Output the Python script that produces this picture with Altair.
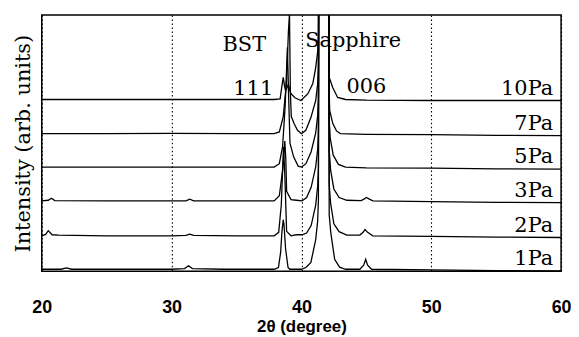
import altair as alt
import pandas as pd

# ---- data (2theta in degrees, intensity in arb. units above each trace's baseline) ----
traces = ["1Pa", "2Pa", "3Pa", "5Pa", "7Pa", "10Pa"]
offsets = [0.0, 0.98, 2.0, 2.99, 3.97, 4.97]

tt_1pa = [20.0, 21.5, 21.9, 22.3, 25.0, 30.0, 31.0, 31.3, 31.6, 34.0, 37.9, 38.23, 38.4, 38.5, 38.6,
          38.66, 38.78, 38.97, 39.1, 39.6, 40.0, 40.35, 40.73, 41.1, 41.25, 41.31, 41.34, 42.1, 42.14,
          42.26, 42.56, 42.94, 43.4, 44.5, 44.8, 44.95, 45.1, 45.4, 50.0, 55.0, 60.0]
int_1pa = [0.0, 0.0, 0.04, 0.0, 0.0, 0.0, 0.02, 0.1, 0.02, 0.0, 0.0, 0.05, 0.5, 1.1, 1.45,
           1.3, 0.6, 0.05, 0.0, 0.0, 0.0, 0.05, 0.2, 0.87, 1.4, 2.03, 9.0, 9.0, 1.6,
           1.08, 0.29, 0.06, 0.0, 0.0, 0.12, 0.29, 0.12, 0.0, -0.02, -0.04, -0.05]

tt_2pa = [20.0, 20.3, 20.5, 20.8, 21.3, 25.0, 30.0, 31.1, 31.4, 31.7, 35.0, 37.9, 38.25, 38.45, 38.62,
          38.72, 38.86, 39.2, 39.6, 40.05, 40.4, 40.75, 41.1, 41.25, 41.31, 41.34, 42.1, 42.14,
          42.25, 42.5, 42.9, 43.5, 44.5, 44.75, 44.9, 45.1, 45.5, 50.0, 55.0, 60.0]
int_2pa = [0.0, 0.04, 0.15, 0.03, 0.02, 0.0, 0.0, 0.01, 0.05, 0.01, 0.0, 0.0, 0.1, 0.9, 2.6,
           1.8, 0.13, 0.0, 0.03, 0.03, 0.08, 0.3, 0.9, 1.45, 2.0, 9.0, 9.0, 1.5,
           0.95, 0.35, 0.12, 0.02, 0.02, 0.1, 0.18, 0.1, 0.0, -0.02, -0.04, -0.05]

tt_3pa = [20.0, 20.5, 20.75, 21.0, 25.0, 30.0, 31.1, 31.4, 31.7, 35.0, 37.9, 38.3, 38.55, 38.72,
          38.8, 38.86, 39.2, 39.6, 40.05, 40.4, 40.75, 41.1, 41.25, 41.31, 41.34, 42.1, 42.14,
          42.25, 42.5, 42.9, 43.5, 44.6, 44.85, 45.0, 45.2, 45.5, 50.0, 55.0, 60.0]
int_3pa = [0.0, 0.02, 0.08, 0.01, 0.0, 0.0, 0.0, 0.05, 0.0, 0.0, 0.0, 0.15, 0.9, 1.75,
           1.2, 0.28, 0.04, 0.02, 0.0, 0.1, 0.4, 1.0, 1.5, 2.0, 9.0, 9.0, 1.5,
           0.9, 0.35, 0.1, 0.02, 0.01, 0.06, 0.1, 0.06, 0.0, -0.02, -0.04, -0.05]

tt_5pa = [20.0, 25.0, 30.0, 35.0, 37.9, 38.3, 38.55, 38.75, 38.92, 39.02, 39.12, 39.4, 39.75,
          40.0, 40.35, 40.75, 41.1, 41.25, 41.31, 41.34, 42.1, 42.14, 42.22, 42.45, 42.85, 43.4,
          45.0, 50.0, 55.0, 60.0]
int_5pa = [0.0, 0.0, 0.0, 0.0, 0.0, 0.1, 0.6, 1.8, 3.5, 2.0, 0.7, 0.3, 0.03,
           0.0, 0.1, 0.45, 1.0, 1.5, 2.0, 9.0, 9.0, 1.4, 0.85, 0.35, 0.08, 0.0,
           -0.02, -0.03, -0.05, -0.06]

tt_7pa = [20.0, 25.0, 30.0, 35.0, 37.9, 38.3, 38.6, 38.85, 39.0, 39.08, 39.15, 39.22, 39.45,
          39.7, 40.0, 40.34, 40.73, 41.1, 41.25, 41.31, 41.34, 42.1, 42.14, 42.18, 42.41, 42.7,
          43.0, 45.0, 50.0, 55.0, 60.0]
int_7pa = [0.0, 0.0, 0.01, 0.0, 0.0, 0.05, 0.5, 1.5, 3.0, 3.5, 1.2, 0.5, 0.28,
           0.1, 0.0, 0.1, 0.47, 0.97, 1.45, 1.93, 9.0, 9.0, 1.2, 0.68, 0.3, 0.08,
           0.0, -0.02, -0.03, -0.05, -0.06]

tt_10pa = [20.0, 25.0, 30.0, 35.0, 37.9, 38.36, 38.5, 38.6, 38.7, 38.78, 38.9, 39.0, 39.08,
           39.2, 39.5, 39.96, 40.5, 40.88, 41.1, 41.25, 41.31, 41.34, 42.1, 42.15, 42.41, 42.79,
           43.4, 45.0, 50.0, 55.0, 60.0]
int_10pa = [0.0, 0.0, 0.0, 0.0, 0.0, 0.02, 0.4, 0.65, 0.4, 0.26, 0.35, 0.45, 0.3,
            0.17, 0.05, -0.03, 0.17, 0.47, 0.93, 1.4, 1.92, 9.0, 9.0, 0.64, 0.35, 0.06,
            0.0, -0.02, -0.03, -0.03, -0.03]

tt_all = [tt_1pa, tt_2pa, tt_3pa, tt_5pa, tt_7pa, tt_10pa]
int_all = [int_1pa, int_2pa, int_3pa, int_5pa, int_7pa, int_10pa]

# annotation texts
peak_labels = ["BST", "Sapphire", "111", "006"]
peak_label_x = [35.6, 43.98, 36.29, 45.01]
peak_label_y = [6.395, 6.52, 5.09, 5.15]
pa_label_x = 59.39
pa_label_rise = 0.12

rows = []
for name, off, xs, ys in zip(traces, offsets, tt_all, int_all):
    for i, (a, b) in enumerate(zip(xs, ys)):
        rows.append({"trace": name, "tt": a, "val": b + off, "i": i})
df = pd.DataFrame(rows)

df_peak = pd.DataFrame({"label": peak_labels, "tt": peak_label_x, "val": peak_label_y})
df_pa = pd.DataFrame({"label": traces, "tt": [pa_label_x] * len(traces),
                      "val": [o + pa_label_rise for o in offsets]})

xscale = alt.Scale(domain=[20, 60], nice=False)
yscale = alt.Scale(domain=[-0.06, 7.44], nice=False, zero=False)

lines = alt.Chart(df).mark_line(clip=True, color="black", strokeWidth=1.3).encode(
    x=alt.X("tt:Q", scale=xscale,
            axis=alt.Axis(values=[20, 30, 40, 50, 60], grid=True, gridDash=[1.5, 2.5],
                          gridColor="black", gridWidth=1.1, gridOpacity=1,
                          ticks=False, tickSize=0, domain=False, labelFlush=False,
                          labelFont="Liberation Sans", labelFontWeight="bold",
                          labelFontSize=18, labelColor="black", labelPadding=27,
                          title="2θ (degree)", titleFont="Liberation Sans",
                          titleFontWeight="bold", titleFontSize=17, titleColor="black",
                          titlePadding=3)),
    y=alt.Y("val:Q", scale=yscale,
            axis=alt.Axis(labels=False, ticks=False, domain=False, grid=False,
                          title="Intensity (arb. units)", titleFont="DejaVu Serif",
                          titleFontWeight="normal", titleFontSize=21, titleColor="black",
                          titlePadding=8)),
    detail="trace:N",
    order="i:Q",
)

peak_text = alt.Chart(df_peak).mark_text(
    font="DejaVu Serif", fontSize=21, color="black", align="center", baseline="alphabetic"
).encode(x=alt.X("tt:Q", scale=xscale), y=alt.Y("val:Q", scale=yscale), text="label:N")

pa_text = alt.Chart(df_pa).mark_text(
    font="DejaVu Serif", fontSize=21, color="black", align="right", baseline="alphabetic"
).encode(x=alt.X("tt:Q", scale=xscale), y=alt.Y("val:Q", scale=yscale), text="label:N")

chart = alt.layer(lines, peak_text, pa_text).properties(
    width=523, height=258,
    autosize=alt.AutoSizeParams(type="none"),
    padding={"left": 34, "top": 6, "right": 10, "bottom": 65},
    background="white",
).configure_view(stroke="black", strokeWidth=1.5)

chart.save("out.html", embed_options={"renderer": "svg", "actions": False})
